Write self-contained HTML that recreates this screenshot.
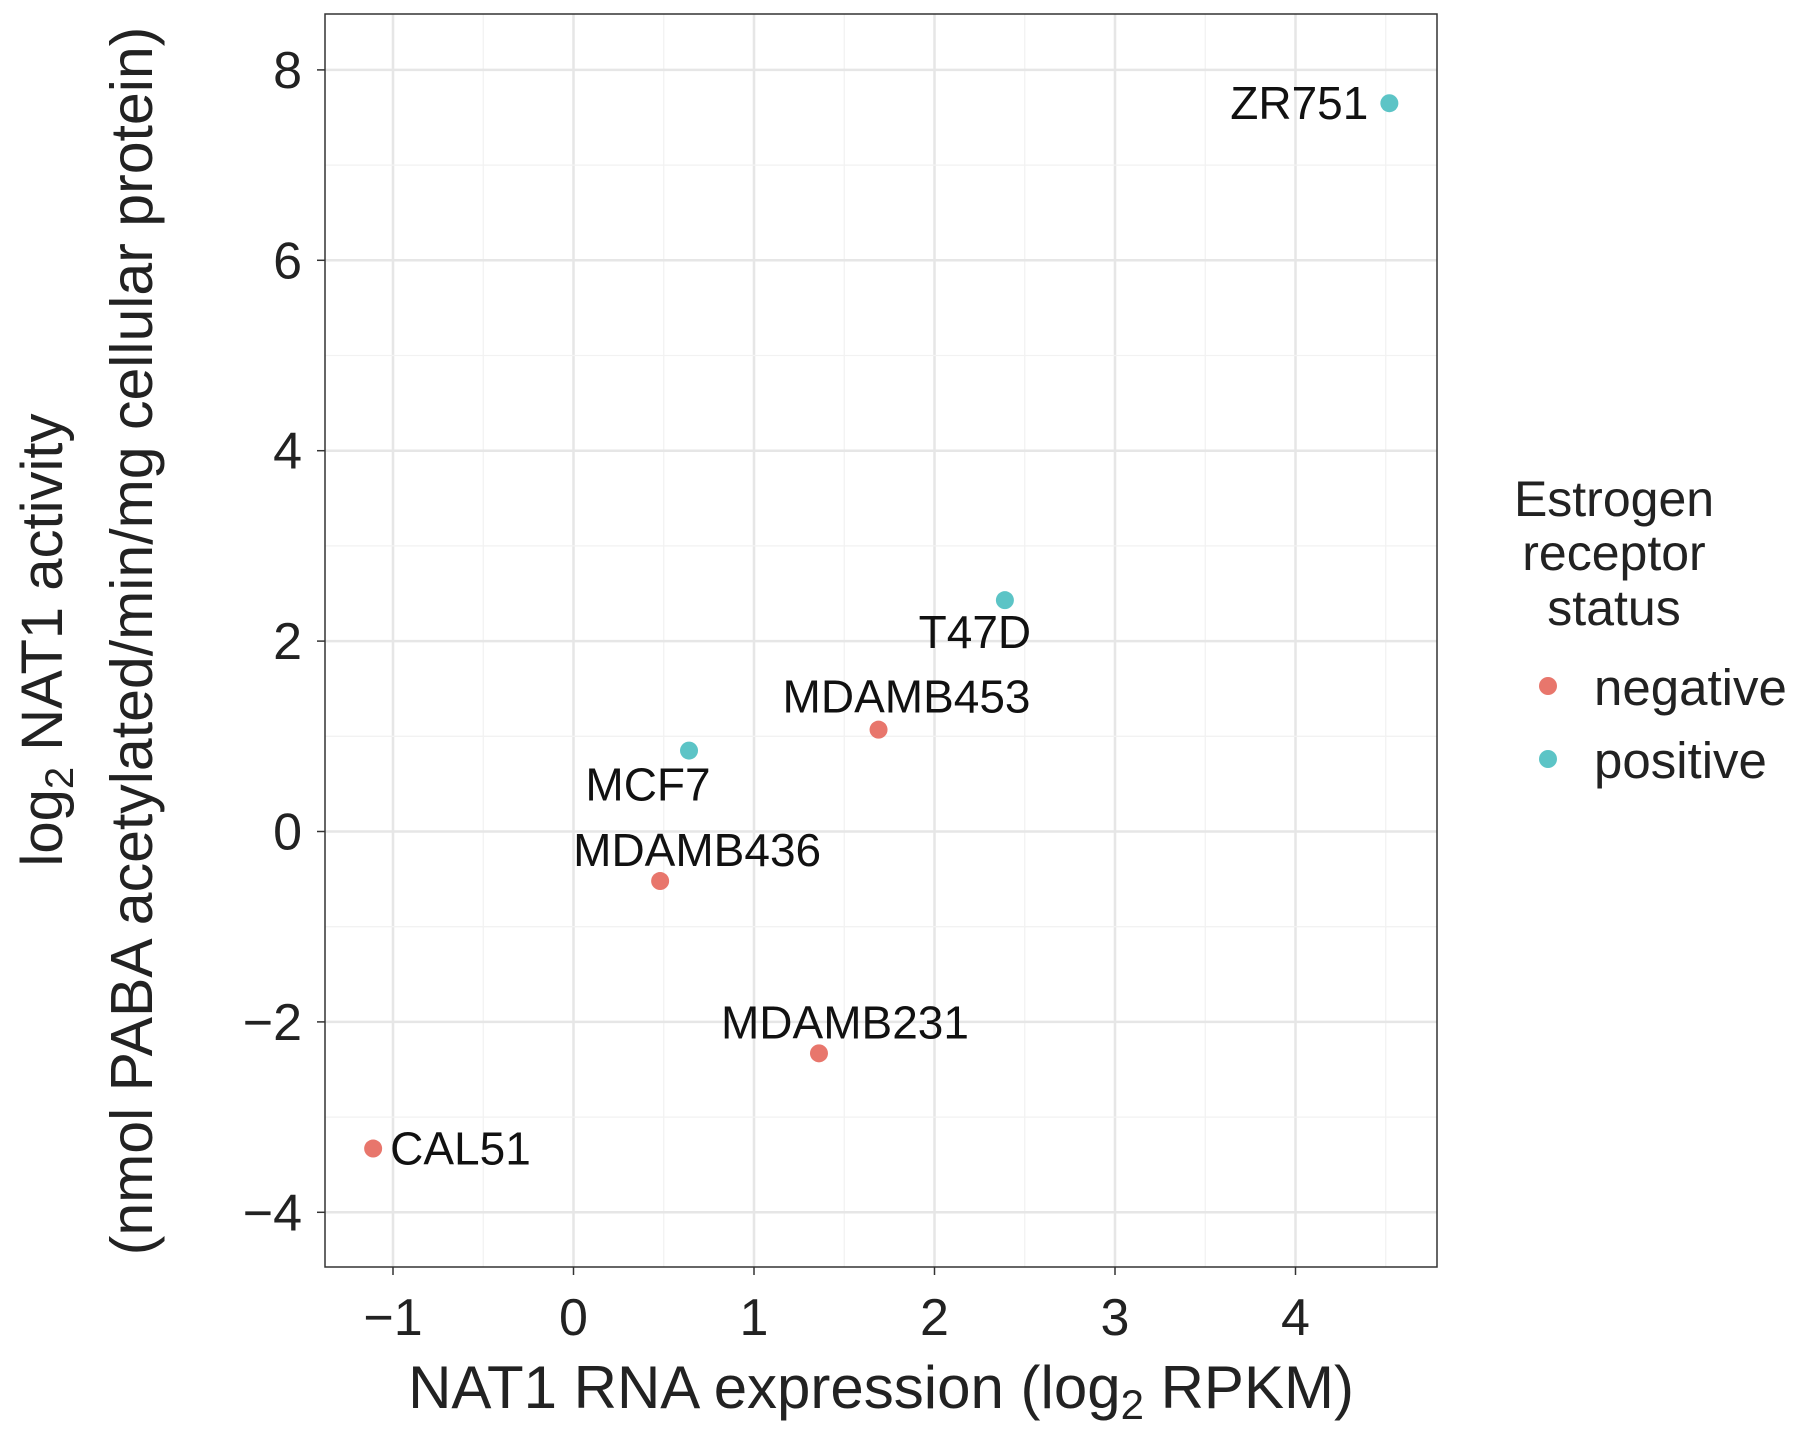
<!DOCTYPE html>
<html><head><meta charset="utf-8"><style>
html,body{margin:0;padding:0;background:#fff;}
svg{display:block;font-family:"Liberation Sans",sans-serif;}
</style></head><body>
<svg id="chart" width="1795" height="1434" viewBox="0 0 1795 1434">
<g id="grid"></g>
<rect x="325" y="14" width="1112" height="1253" fill="none" stroke="#333" stroke-width="1.5"/>
<g id="axes"></g>
<g id="marks"></g>
<text transform="translate(62,640) rotate(-90)" text-anchor="middle" font-size="58" fill="#222">log<tspan font-size="40" dy="11">2</tspan><tspan dy="-11"> NAT1  activity</tspan></text>
<text transform="translate(152,641) rotate(-90)" text-anchor="middle" font-size="59" fill="#222">(nmol PABA acetylated/min/mg cellular protein)</text>
<text x="881" y="1408" text-anchor="middle" font-size="60" fill="#222">NAT1 RNA expression (log<tspan font-size="42" dy="11">2</tspan><tspan dy="-11"> RPKM)</tspan></text>
<g>
<text x="1614" y="516" text-anchor="middle" font-size="50" fill="#222"><tspan x="1614">Estrogen</tspan><tspan x="1614" dy="54">receptor</tspan><tspan x="1614" dy="55">status</tspan></text>
<circle cx="1548" cy="686" r="9" fill="#e8766c"/>
<text x="1594" y="705" font-size="51" fill="#222">negative</text>
<circle cx="1548" cy="759" r="9" fill="#5cc4c6"/>
<text x="1594" y="778" font-size="51" fill="#222">positive</text>
</g>
</svg>
<script>
const names = ["ZR751","T47D","MDAMB453","MCF7","MDAMB436","MDAMB231","CAL51"];
const xVals = [4.52,2.39,1.69,0.64,0.48,1.36,-1.11];
const yVals = [7.65,2.43,1.07,0.85,-0.52,-2.33,-3.33];
const status = ["positive","positive","negative","positive","negative","negative","negative"];
const xTicks = [-1,0,1,2,3,4];
const yTicks = [-4,-2,0,2,4,6,8];
const xTickLabels = ["\u22121","0","1","2","3","4"];
const yTickLabels = ["\u22124","\u22122","0","2","4","6","8"];
const labelDx = [-21,-30,28,-41,37,26,17];
const labelDy = [16,48,-17,50,-15,-15,16];
const labelAnchor = ["end","middle","middle","middle","middle","middle","start"];
const colors = {negative:"#e8766c", positive:"#5cc4c6"};
const L=325,R=1437,T=14,B=1267;
const sx = v => 573.5 + v*180.5;
const sy = v => 831.5 - v*95.2;
const NS="http://www.w3.org/2000/svg";
const grid=document.getElementById('grid'), axes=document.getElementById('axes'), marks=document.getElementById('marks');
function mk(tag,attrs,parent){const e=document.createElementNS(NS,tag);for(const k in attrs)e.setAttribute(k,attrs[k]);parent.appendChild(e);return e;}
for(let v=-1.5; v<=4.51; v+=0.5){
  const x=sx(v); if(x<L||x>R) continue;
  const major=Math.abs(v-Math.round(v))<1e-6;
  const l=mk('line',{x1:x,x2:x,y1:T,y2:B,stroke:major?"#e6e6e6":"#f2f2f2","stroke-width":major?2.5:1.3},grid);
  
  
}
for(let v=-5; v<=8.51; v+=1){
  const y=sy(v); if(y<T||y>B) continue;
  const major=Math.abs(v/2-Math.round(v/2))<1e-6;
  const l=mk('line',{x1:L,x2:R,y1:y,y2:y,stroke:major?"#e6e6e6":"#f2f2f2","stroke-width":major?2.5:1.3},grid);
  
  
}
xTicks.forEach((v,i)=>{
  const x=sx(v);
  const t=mk('line',{x1:x,x2:x,y1:B,y2:B+8,stroke:"#333","stroke-width":1.5},axes);
  
  
  const tx=mk('text',{x:x,y:1335,"text-anchor":"middle","font-size":52,fill:"#222"},axes);
  tx.textContent=xTickLabels[i];
  
  
});
yTicks.forEach((v,i)=>{
  const y=sy(v);
  const t=mk('line',{x1:L-8,x2:L,y1:y,y2:y,stroke:"#333","stroke-width":1.5},axes);
  
  
  const tx=mk('text',{x:302,y:y+18,"text-anchor":"end","font-size":52,fill:"#222"},axes);
  tx.textContent=yTickLabels[i];
  
  
});
names.forEach((n,i)=>{
  const x=sx(xVals[i]), y=sy(yVals[i]);
  const c=mk('circle',{cx:x,cy:y,r:9,fill:colors[status[i]]},marks);
  
  
  const t=mk('text',{x:x+labelDx[i],y:y+labelDy[i],"text-anchor":labelAnchor[i],"font-size":46,fill:"#111"},marks);
  t.textContent=n;
  
  
});
</script>
</body></html>
